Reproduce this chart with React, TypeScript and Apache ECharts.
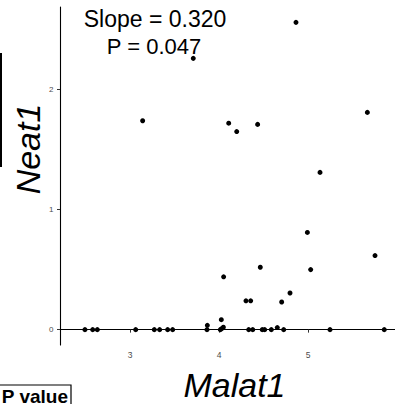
import React, { useEffect, useRef } from "react";
import * as echarts from "echarts";

const malat1: number[] = [
  4.865, 3.711, 5.667, 3.142, 4.109, 4.434, 4.199, 5.135, 4.993, 5.753, 4.464,
  5.03, 4.052, 4.798, 4.704, 4.303, 4.356, 4.026, 3.869, 4.049, 4.03, 4.655,
  2.494, 2.581, 2.633, 3.064, 3.273, 3.333, 3.423, 3.479, 3.865, 4.015, 4.334,
  4.379, 4.486, 4.513, 4.588, 4.727, 5.247, 5.857,
];
const neat1: number[] = [
  2.56, 2.26, 1.81, 1.74, 1.72, 1.71, 1.65, 1.31, 0.81, 0.617, 0.52, 0.5, 0.44,
  0.305, 0.23, 0.24, 0.24, 0.083, 0.036, 0.02, 0.008, 0.017,
  0, 0, 0, 0, 0, 0, 0, 0, 0, 0, 0, 0, 0, 0, 0, 0, 0, 0,
];
const xTicks: number[] = [3, 4, 5];
const yTicks: number[] = [0, 1, 2];
const slopeText = "Slope = 0.320";
const pText = "P = 0.047";
const xTitle = "Malat1";
const yTitle = "Neat1";
const legendTitle = "P value";

const FONT = "'Liberation Sans', Arial, Helvetica, sans-serif";

export default function App() {
  const ref = useRef<HTMLDivElement>(null);
  useEffect(() => {
    if (!ref.current) return;
    const chart = echarts.init(ref.current, null, { renderer: "svg" });
    const points = malat1.map((x, i) => [x, neat1[i]]);
    chart.setOption({
      animation: false,
      backgroundColor: "#ffffff",
      grid: { left: 60, right: 0, top: 7, bottom: 59, containLabel: false },
      xAxis: {
        type: "value",
        min: 2.2135,
        max: 5.9775,
        splitLine: { show: false },
        axisLine: { show: true, lineStyle: { color: "#000", width: 1.1 } },
        axisTick: {
          show: true,
          length: 3,
          customValues: xTicks,
          lineStyle: { color: "#333", width: 1 },
        },
        axisLabel: {
          show: true,
          customValues: xTicks,
          margin: 5,
          fontSize: 8.5,
          color: "#4d4d4d",
          fontFamily: FONT,
        },
      },
      yAxis: {
        type: "value",
        min: -0.128,
        max: 2.688,
        splitLine: { show: false },
        axisLine: { show: true, lineStyle: { color: "#000", width: 1.1 } },
        axisTick: {
          show: true,
          length: 3,
          customValues: yTicks,
          lineStyle: { color: "#333", width: 1 },
        },
        axisLabel: {
          show: true,
          customValues: yTicks,
          margin: 6.5,
          fontSize: 8,
          color: "#4d4d4d",
          fontFamily: FONT,
        },
      },
      series: [
        {
          type: "scatter",
          data: points,
          symbol: "circle",
          symbolSize: 5,
          itemStyle: { color: "#000", opacity: 1 },
          clip: false,
        },
      ],
      graphic: [
        {
          type: "text",
          x: 155,
          y: 19,
          style: {
            text: slopeText,
            font: `23px ${FONT}`,
            fill: "#000",
            textAlign: "center",
            textVerticalAlign: "middle",
          },
        },
        {
          type: "text",
          x: 154,
          y: 46.5,
          style: {
            text: pText,
            font: `22px ${FONT}`,
            fill: "#000",
            textAlign: "center",
            textVerticalAlign: "middle",
          },
        },
        {
          type: "text",
          x: 234.5,
          y: 385,
          style: {
            text: xTitle,
            font: `italic 34px ${FONT}`,
            fill: "#000",
            textAlign: "center",
            textVerticalAlign: "middle",
          },
        },
        {
          type: "text",
          x: 28,
          y: 149,
          rotation: Math.PI / 2,
          style: {
            text: yTitle,
            font: `italic 34px ${FONT}`,
            fill: "#000",
            textAlign: "center",
            textVerticalAlign: "middle",
          },
        },
        {
          type: "line",
          shape: { x1: 1, y1: 53, x2: 1, y2: 167 },
          style: { stroke: "#000", lineWidth: 2 },
        },
        {
          type: "rect",
          shape: { x: -6, y: 385, width: 77, height: 30 },
          style: { fill: "#fff", stroke: "#000", lineWidth: 1.2 },
        },
        {
          type: "text",
          x: 68,
          y: 396,
          style: {
            text: legendTitle,
            font: `bold 19px ${FONT}`,
            fill: "#000",
            textAlign: "right",
            textVerticalAlign: "middle",
          },
        },
      ],
    });
    return () => chart.dispose();
  }, []);
  return (
    <div
      ref={ref}
      style={{ position: "fixed", left: 0, top: 0, width: 395, height: 404 }}
    />
  );
}
